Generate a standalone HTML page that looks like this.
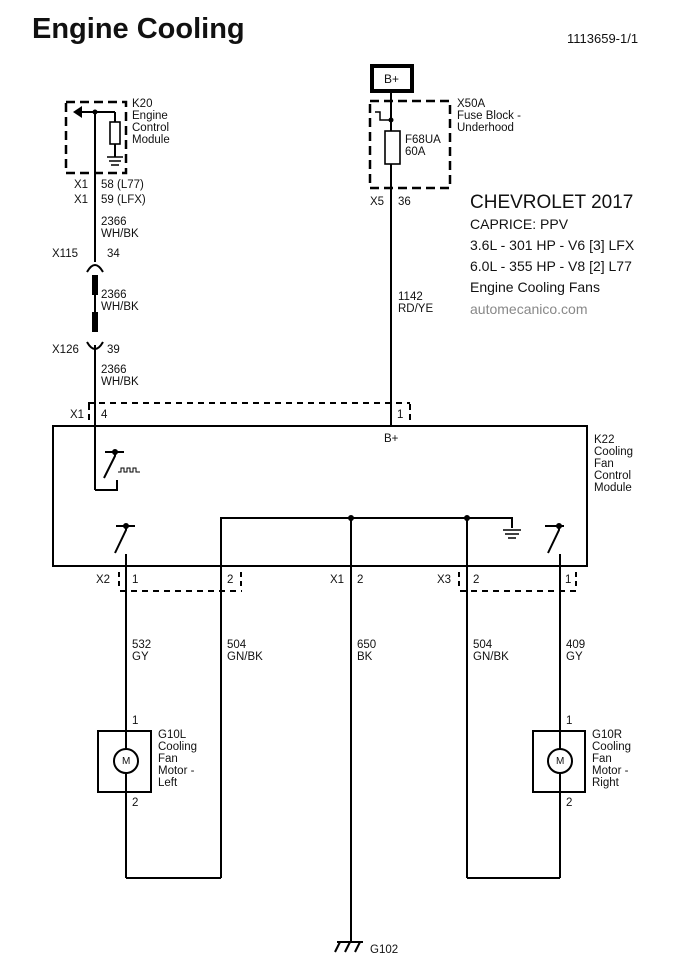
<!DOCTYPE html>
<html><head><meta charset="utf-8"><style>
html,body{margin:0;padding:0;background:#fff}
svg{display:block}
text{font-family:"Liberation Sans",Arial,sans-serif;font-size:11.5px;fill:#111}
</style></head><body>
<svg width="680" height="968" viewBox="0 0 680 968" xmlns="http://www.w3.org/2000/svg">
<text x="32" y="38" style="font-size:29px;font-weight:bold">Engine Cooling</text>
<text x="567" y="43" style="font-size:13px">1113659-1/1</text>

<g stroke="#000" stroke-width="2" fill="none">
<!-- ECM -->
<rect x="66" y="102" width="60" height="71" stroke-dasharray="9,5" stroke-width="2.5"/>
<line x1="95" y1="112" x2="95" y2="262"/>
<line x1="95" y1="112" x2="80" y2="112"/>
<line x1="95" y1="112" x2="115" y2="112"/>
<line x1="115" y1="112" x2="115" y2="122"/>
<rect x="110" y="122" width="10" height="22" stroke-width="1.6"/>
<line x1="115" y1="144" x2="115" y2="157"/>
<line x1="107" y1="157" x2="123" y2="157" stroke-width="1.5"/>
<line x1="109" y1="161" x2="121" y2="161" stroke-width="1.5"/>
<line x1="111" y1="165" x2="119" y2="165" stroke-width="1.5"/>
<!-- connectors X115 / X126 -->
<path d="M87 272 Q95 258 103 272"/>
<line x1="95" y1="275" x2="95" y2="330"/>
<path d="M87 342 Q95 356 103 342"/>
<line x1="95" y1="345" x2="95" y2="490"/>
<!-- fuse block -->
<rect x="372" y="66" width="40" height="25" stroke-width="4"/>
<rect x="370" y="101" width="80" height="87" stroke-dasharray="9,5" stroke-width="2.5"/>
<line x1="391" y1="92" x2="391" y2="426"/>
<path d="M391 120 H380 V112 H375" stroke-width="1.5"/>
<rect x="385" y="131" width="15" height="33" fill="#fff" stroke-width="1.6"/>
<!-- X1 dashed -->
<line x1="88" y1="403" x2="410" y2="403" stroke-dasharray="6,5"/>
<line x1="89" y1="404" x2="89" y2="420" stroke-dasharray="6,4"/>
<line x1="410" y1="404" x2="410" y2="420" stroke-dasharray="6,4"/>
<!-- K22 box -->
<rect x="53" y="426" width="534" height="140"/>
<!-- PWM switch -->
<path d="M95 490 H117 V480"/>
<line x1="105" y1="452" x2="124" y2="452"/>
<path d="M115 452 V456 L104 478"/>
<path d="M118 472 h3 v-4 h3 v4 h3 v-4 h3 v4 h3 v-4 h3 v4 h4" stroke-width="1"/>
<!-- internal bus -->
<path d="M221 566 V518 H512 V528"/>
<line x1="351" y1="518" x2="351" y2="942"/>
<line x1="467" y1="518" x2="467" y2="878"/>
<line x1="503" y1="530" x2="521" y2="530" stroke-width="1.5"/>
<line x1="505" y1="534" x2="519" y2="534" stroke-width="1.5"/>
<line x1="508" y1="538" x2="516" y2="538" stroke-width="1.5"/>
<!-- switches -->
<line x1="116" y1="526" x2="135" y2="526"/>
<path d="M126 526 V530 L115 553"/>
<line x1="126" y1="554" x2="126" y2="878"/>
<line x1="545" y1="526" x2="564" y2="526"/>
<path d="M559 526 V530 L548 553"/>
<line x1="560" y1="554" x2="560" y2="878"/>
<line x1="221" y1="566" x2="221" y2="878"/>
<!-- bottom dashed connectors -->
<line x1="120" y1="591" x2="242" y2="591" stroke-dasharray="6,5"/>
<line x1="119" y1="572" x2="119" y2="588" stroke-dasharray="5,4"/>
<line x1="241" y1="572" x2="241" y2="588" stroke-dasharray="5,4"/>
<line x1="460" y1="591" x2="577" y2="591" stroke-dasharray="6,5"/>
<line x1="459" y1="572" x2="459" y2="588" stroke-dasharray="5,4"/>
<line x1="576" y1="572" x2="576" y2="588" stroke-dasharray="5,4"/>
<!-- motors -->
<rect x="98" y="731" width="53" height="61"/>
<circle cx="126" cy="761" r="12" fill="#fff"/>
<rect x="533" y="731" width="52" height="61"/>
<circle cx="560" cy="761" r="12" fill="#fff"/>
<!-- bottom loops -->
<path d="M126 878 H221"/>
<path d="M467 878 H560"/>
<!-- ground G102 -->
<line x1="337" y1="942" x2="363" y2="942"/>
<line x1="340" y1="942" x2="335" y2="952"/>
<line x1="350" y1="942" x2="345" y2="952"/>
<line x1="360" y1="942" x2="355" y2="952"/>
</g>
<path d="M73 112 L82 106 L82 118 Z" fill="#000"/>
<g fill="#000">
<circle cx="95" cy="112" r="2.5"/><circle cx="391" cy="120" r="2.5"/>
<circle cx="351" cy="518" r="3"/><circle cx="467" cy="518" r="3"/>
<circle cx="115" cy="452" r="3"/><circle cx="126" cy="526" r="3"/><circle cx="559" cy="526" r="3"/>
<rect x="92" y="275" width="6" height="20"/><rect x="92" y="312" width="6" height="20"/>
</g>
<text x="122" y="764" style="font-size:10px">M</text>
<text x="556" y="764" style="font-size:10px">M</text>

<text x="132" y="107">K20</text><text x="132" y="119">Engine</text><text x="132" y="131">Control</text><text x="132" y="143">Module</text>
<text x="74" y="188">X1</text><text x="101" y="188">58  (L77)</text>
<text x="74" y="203">X1</text><text x="101" y="203">59  (LFX)</text>
<text x="101" y="225">2366</text><text x="101" y="237">WH/BK</text>
<text x="52" y="257">X115</text><text x="107" y="257">34</text>
<text x="101" y="298">2366</text><text x="101" y="310">WH/BK</text>
<text x="52" y="353">X126</text><text x="107" y="353">39</text>
<text x="101" y="373">2366</text><text x="101" y="385">WH/BK</text>
<text x="70" y="418">X1</text><text x="101" y="418">4</text>
<text x="397" y="418">1</text>
<text x="384" y="442">B+</text>
<text x="384" y="83" style="font-size:12px">B+</text>
<text x="457" y="107">X50A</text><text x="457" y="119">Fuse Block -</text><text x="457" y="131">Underhood</text>
<text x="405" y="143">F68UA</text><text x="405" y="155">60A</text>
<text x="370" y="205">X5</text><text x="398" y="205">36</text>
<text x="398" y="300">1142</text><text x="398" y="312">RD/YE</text>
<text x="470" y="208" style="font-size:19px">CHEVROLET 2017</text>
<text x="470" y="229" style="font-size:14px">CAPRICE: PPV</text>
<text x="470" y="250" style="font-size:14px">3.6L - 301 HP - V6 [3] LFX</text>
<text x="470" y="271" style="font-size:14px">6.0L - 355 HP - V8 [2] L77</text>
<text x="470" y="292" style="font-size:14px">Engine Cooling Fans</text>
<text x="470" y="314" style="font-size:14px;fill:#888">automecanico.com</text>
<text x="594" y="443">K22</text><text x="594" y="455">Cooling</text><text x="594" y="467">Fan</text><text x="594" y="479">Control</text><text x="594" y="491">Module</text>
<text x="96" y="583">X2</text><text x="132" y="583">1</text>
<text x="227" y="583">2</text>
<text x="330" y="583">X1</text><text x="357" y="583">2</text>
<text x="437" y="583">X3</text><text x="473" y="583">2</text>
<text x="565" y="583">1</text>
<text x="132" y="648">532</text><text x="132" y="660">GY</text>
<text x="227" y="648">504</text><text x="227" y="660">GN/BK</text>
<text x="357" y="648">650</text><text x="357" y="660">BK</text>
<text x="473" y="648">504</text><text x="473" y="660">GN/BK</text>
<text x="566" y="648">409</text><text x="566" y="660">GY</text>
<text x="132" y="724">1</text><text x="132" y="806">2</text>
<text x="158" y="738">G10L</text><text x="158" y="750">Cooling</text><text x="158" y="762">Fan</text><text x="158" y="774">Motor -</text><text x="158" y="786">Left</text>
<text x="566" y="724">1</text><text x="566" y="806">2</text>
<text x="592" y="738">G10R</text><text x="592" y="750">Cooling</text><text x="592" y="762">Fan</text><text x="592" y="774">Motor -</text><text x="592" y="786">Right</text>
<text x="370" y="953">G102</text>
</svg>
</body></html>
